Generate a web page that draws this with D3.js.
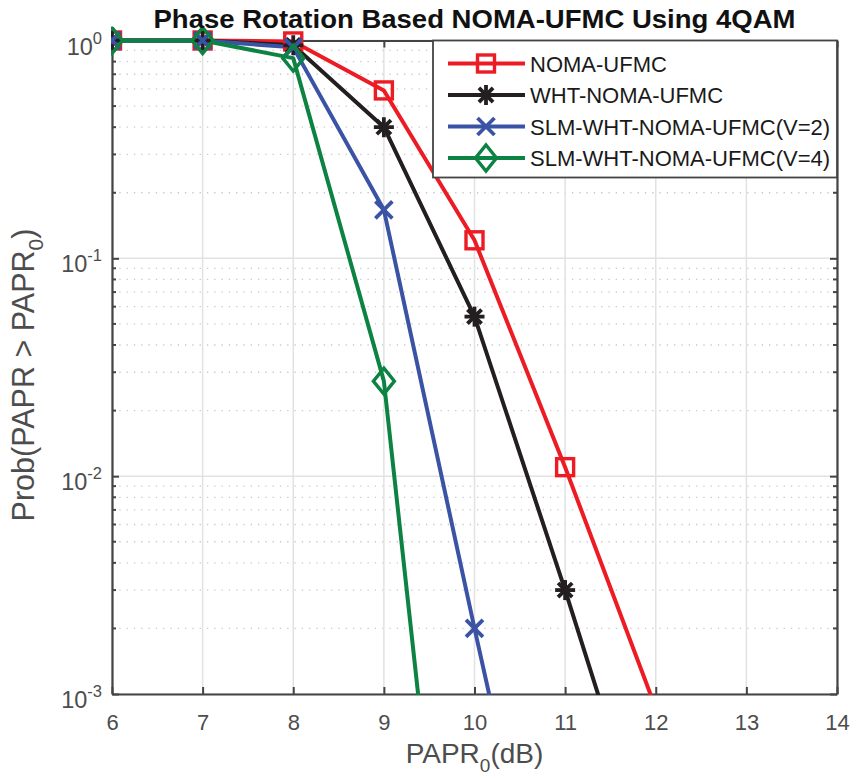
<!DOCTYPE html>
<html>
<head>
<meta charset="utf-8">
<script src="https://cdn.jsdelivr.net/npm/d3@7"></script>
<style>
  body { margin: 0; background: #fff; }
  text { font-family: "Liberation Sans", Arial, sans-serif; }
</style>
</head>
<body>
<script>
// data
const paprDb = [6, 7, 8, 9, 10, 11, 12];
const nomaUfmc = [1, 1, 0.99, 0.59, 0.121, 0.011, 0.00086];
const whtNomaUfmc = [1, 1, 0.95, 0.40, 0.054, 0.0030, 0.000145];
const slmV2 = [1, 1, 0.93, 0.167, 0.0020, 0.000027];
const slmV4 = [1, 1, 0.83, 0.0273, 0.0000043];

const seriesNames = ['NOMA-UFMC', 'WHT-NOMA-UFMC', 'SLM-WHT-NOMA-UFMC(V=2)', 'SLM-WHT-NOMA-UFMC(V=4)'];
const seriesColors = ['#ed1c24', '#231f20', '#3a53a4', '#0c8342'];
const seriesMarkers = ['square', 'star', 'cross', 'diamond'];
const xTicks = [6, 7, 8, 9, 10, 11, 12, 13, 14];
const yDecades = [1e-3, 1e-2, 1e-1, 1];

const series = [nomaUfmc, whtNomaUfmc, slmV2, slmV4].map((vals, i) => ({
  name: seriesNames[i],
  color: seriesColors[i],
  marker: seriesMarkers[i],
  points: vals.map((v, j) => ({ x: paprDb[j], y: v }))
}));

const svgWidth = 857, svgHeight = 778;
const margin = { top: 40.5, right: 20, bottom: 84, left: 112 };
const width = svgWidth - margin.left - margin.right,
  height = svgHeight - margin.top - margin.bottom;

const xScale = d3.scaleLinear().domain([6, 14]).range([0, width]);
const yScale = d3.scaleLog().domain([1e-3, 1]).range([height, 0]);

const svg = d3.select('body').append('svg')
  .attr('width', svgWidth)
  .attr('height', svgHeight);

svg.append('defs').append('clipPath').attr('id', 'plotclip')
  .append('rect').attr('x', -1).attr('y', -14).attr('width', width + 2).attr('height', height + 15);

const g = svg.append('g').attr('transform', `translate(${margin.left},${margin.top})`);

// minor values
const minorVals = [];
yDecades.slice(0, 3).forEach(d => {
  for (let k = 2; k <= 9; k++) minorVals.push(d * k);
});

// grid
const grid = g.append('g');
grid.selectAll('.minor').data(minorVals).enter().append('line')
  .attr('x1', 0).attr('x2', width)
  .attr('y1', d => yScale(d)).attr('y2', d => yScale(d))
  .attr('stroke', '#c8c8c8').attr('stroke-width', 1.3)
  .attr('stroke-dasharray', '1.3,6');
grid.selectAll('.vmaj').data(xTicks).enter().append('line')
  .attr('x1', d => xScale(d)).attr('x2', d => xScale(d))
  .attr('y1', 0).attr('y2', height)
  .attr('stroke', '#e2e2e2').attr('stroke-width', 1.5);
grid.selectAll('.hmaj').data(yDecades).enter().append('line')
  .attr('x1', 0).attr('x2', width)
  .attr('y1', d => yScale(d)).attr('y2', d => yScale(d))
  .attr('stroke', '#e2e2e2').attr('stroke-width', 1.5);

// axes
const axisColor = '#444';
const xAxisB = g.append('g').attr('transform', `translate(0,${height})`)
  .call(d3.axisBottom(xScale).tickValues(xTicks).tickSizeInner(-7).tickSizeOuter(0).tickPadding(20));
const xAxisT = g.append('g')
  .call(d3.axisTop(xScale).tickValues(xTicks).tickSizeInner(-7).tickSizeOuter(0).tickFormat(''));
const yAxisL = g.append('g')
  .call(d3.axisLeft(yScale).tickValues(yDecades).tickSizeInner(-7).tickSizeOuter(0).tickFormat(''));
const yAxisR = g.append('g').attr('transform', `translate(${width},0)`)
  .call(d3.axisRight(yScale).tickValues(yDecades).tickSizeInner(-7).tickSizeOuter(0).tickFormat(''));
[xAxisB, xAxisT, yAxisL, yAxisR].forEach(a => {
  a.select('.domain').attr('stroke', axisColor).attr('stroke-width', 2.2);
  a.selectAll('.tick line').attr('stroke', axisColor).attr('stroke-width', 2);
});
xAxisB.selectAll('.tick text').attr('fill', '#4d4d4d').attr('font-size', 22)
  .attr('font-family', '"Liberation Sans", Arial, sans-serif');

// minor ticks on both sides
[0, width].forEach(x0 => {
  g.append('g').selectAll('line').data(minorVals).enter().append('line')
    .attr('x1', x0).attr('x2', x0 === 0 ? 4 : width - 4)
    .attr('y1', d => yScale(d)).attr('y2', d => yScale(d))
    .attr('stroke', axisColor).attr('stroke-width', 2);
});

// y tick labels 10^n
const exps = [-3, -2, -1, 0];
yDecades.forEach((d, i) => {
  const t = g.append('text')
    .attr('x', -10).attr('y', yScale(d) + 14)
    .attr('text-anchor', 'end').attr('fill', '#4d4d4d').attr('font-size', 23.5);
  t.append('tspan').text('10');
  t.append('tspan').attr('dy', -11).attr('font-size', 16.5).text(exps[i]);
});

// axis labels
const xl = svg.append('text')
  .attr('x', margin.left + width / 2).attr('y', 763)
  .attr('text-anchor', 'middle').attr('fill', '#4d4d4d').attr('font-size', 28);
xl.append('tspan').text('PAPR');
xl.append('tspan').attr('dy', 9).attr('font-size', 19).text('0');
xl.append('tspan').attr('dy', -9).text('(dB)');

const yl = svg.append('text')
  .attr('transform', `translate(34,375) rotate(-90)`)
  .attr('text-anchor', 'middle').attr('fill', '#4d4d4d').attr('font-size', 30.5);
yl.append('tspan').text('Prob(PAPR > PAPR');
yl.append('tspan').attr('dy', 9).attr('font-size', 21).text('0');
yl.append('tspan').attr('dy', -9).text(')');

// title
svg.append('text')
  .attr('x', margin.left + width / 2).attr('y', 28)
  .attr('text-anchor', 'middle').attr('fill', '#111')
  .attr('font-size', 25).attr('font-weight', 'bold')
  .attr('textLength', 642).attr('lengthAdjust', 'spacingAndGlyphs')
  .text('Phase Rotation Based NOMA-UFMC Using 4QAM');

// marker shapes
function drawMarker(sel, type, color) {
  if (type === 'square') {
    sel.append('rect').attr('x', -8.5).attr('y', -8.5).attr('width', 17).attr('height', 17)
      .attr('fill', 'none').attr('stroke', color).attr('stroke-width', 3.4);
  } else if (type === 'star') {
    [0, 45, 90, 135].forEach(a => {
      sel.append('line').attr('x1', -10).attr('x2', 10)
        .attr('transform', `rotate(${a})`)
        .attr('stroke', color).attr('stroke-width', 3.8);
    });
  } else if (type === 'cross') {
    [45, 135].forEach(a => {
      sel.append('line').attr('x1', -12).attr('x2', 12)
        .attr('transform', `rotate(${a})`)
        .attr('stroke', color).attr('stroke-width', 3.8);
    });
  } else if (type === 'diamond') {
    sel.append('path').attr('d', 'M0,-13L10.5,0L0,13L-10.5,0Z')
      .attr('fill', 'none').attr('stroke', color).attr('stroke-width', 3.4);
  }
}

// lines and markers
const plot = g.append('g').attr('clip-path', 'url(#plotclip)');
const line = d3.line().x(d => xScale(d.x)).y(d => yScale(d.y));
series.forEach(s => {
  plot.append('path').datum(s.points)
    .attr('d', line)
    .attr('fill', 'none').attr('stroke', s.color)
    .attr('stroke-width', 4).attr('stroke-linejoin', 'round');
});
series.forEach(s => {
  plot.selectAll(null).data(s.points.filter(p => p.y >= 1e-3)).enter().append('g')
    .attr('transform', d => `translate(${xScale(d.x)},${yScale(d.y)})`)
    .each(function () { drawMarker(d3.select(this), s.marker, s.color); });
});

// legend
const legend = g.append('g').attr('transform', `translate(${width - 404},0)`);
legend.append('rect').attr('x', 0).attr('y', 0).attr('width', 404).attr('height', 137)
  .attr('fill', '#fff').attr('stroke', axisColor).attr('stroke-width', 1.8);
series.forEach((s, i) => {
  const row = legend.append('g').attr('transform', `translate(0,${23 + i * 31.5})`);
  row.append('line').attr('x1', 15).attr('x2', 92)
    .attr('stroke', s.color).attr('stroke-width', 4);
  drawMarker(row.append('g').attr('transform', 'translate(53,0)'), s.marker, s.color);
  row.append('text').attr('x', 97).attr('y', 8)
    .attr('fill', '#1a1a1a').attr('font-size', 22).text(s.name);
});
</script>
</body>
</html>
